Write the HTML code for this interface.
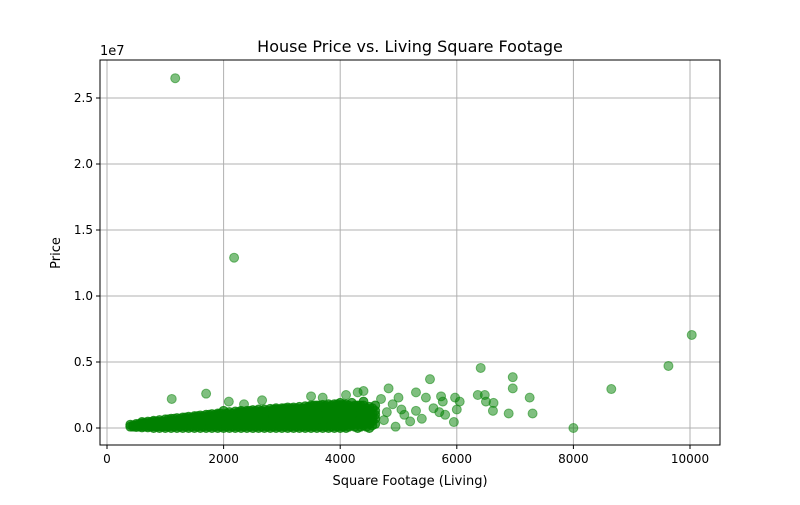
<!DOCTYPE html>
<html><head><meta charset="utf-8"><style>
body{margin:0;background:#fff;font-family:"Liberation Sans","DejaVu Sans",sans-serif;}
svg text{font-family:"DejaVu Sans","Liberation Sans",sans-serif;}
</style></head><body>
<svg id="chart" width="800" height="500" xmlns="http://www.w3.org/2000/svg">
<rect width="800" height="500" fill="#fff"/>
<g id="grid"></g><g id="pts"></g><g id="axes"></g>
<text x="410" y="52" font-size="16" text-anchor="middle">House Price vs. Living Square Footage</text>
<text x="410" y="485" font-size="13" text-anchor="middle">Square Footage (Living)</text>
<text x="60" y="253" font-size="13" text-anchor="middle" transform="rotate(-90 60 253)">Price</text>
<text x="100" y="55" font-size="13">1e7</text>
</svg>
<script>
const xTicks=[0,2000,4000,6000,8000,10000];
const yTicks=[0,5e6,1e7,1.5e7,2e7,2.5e7];
const yTickLabels=["0.0","0.5","1.0","1.5","2.0","2.5"];
// dense band: columns of sqft with price values (thousands)
const bandSqft=[400,500,600,700,800,900,1000,1100,1200,1300,1400,1500,1600,1700,1800,1900,2000,2100,2200,2300,2400,2500,2600,2700,2800,2900,3000,3100,3200,3300,3400,3500,3600,3700,3800,3900,4000,4100,4200,4300,4400,4500,4600];
const bandPricesK=[
[100,250],[80,200,300],[50,200,350,450],[50,200,350,480],[0,150,300,450,550],[0,150,300,450,600],
[0,150,300,450,650],[0,200,400,550,700],[0,200,400,550,750],[0,200,400,600,800],[0,200,400,600,850],[0,200,400,600,800,900],
[0,200,400,600,800,950],[0,200,400,600,800,1000],[0,200,400,600,800,1050],[0,200,400,600,800,1000,1100],[0,200,400,600,800,1000,1300],[0,200,400,600,800,1000,1200],
[0,200,400,600,800,1000,1250],[0,200,400,600,800,1000,1200,1300],[0,200,400,600,800,1000,1200,1300],[0,200,400,600,800,1000,1200,1350],[0,200,400,600,800,1000,1200,1400],[0,200,400,600,800,1000,1200,1400],
[0,200,400,600,800,1000,1200,1450],[0,200,400,600,800,1000,1200,1400,1500],[0,200,400,600,800,1000,1200,1400,1500],[0,200,400,600,800,1000,1200,1400,1550],[0,200,400,600,800,1000,1200,1400,1550],[0,200,400,600,800,1000,1200,1400,1600],
[0,200,400,600,800,1000,1200,1400,1650],[0,200,400,600,800,1000,1200,1400,1600,1700],[0,200,400,600,800,1000,1200,1400,1600,1700],[0,200,400,600,800,1000,1200,1400,1600,1750],[0,200,400,600,800,1000,1200,1400,1600,1800],[0,200,400,600,800,1000,1200,1400,1600,1800],
[0,200,400,600,800,1000,1200,1400,1600,1900],[0,200,400,600,800,1000,1200,1400,1600,1800],[200,400,600,800,1000,1200,1400,1600,1900],[0,300,600,900,1200,1500,1700],[200,500,800,1100,1400,1700,2000],[0,300,700,1000,1300,1600],
[300,700,1000,1300,1700]];
const band2Sqft=[450,550,650,750,850,950,1050,1150,1250,1350,1450,1550,1650,1750,1850,1950,2050,2150,2250,2350,2450,2550,2650,2750,2850,2950,3050,3150,3250,3350,3450,3550,3650,3750,3850,3950,4050,4150,4250,4350,4450,4550];
const band2PricesK=[
[100,200],[100,300],[100,300,400],[100,300,450],[100,300,500],[100,300,500],
[100,300,500,650],[100,300,500,700],[100,300,500,700],[100,300,500,700,800],[100,300,500,700,800],[100,300,500,700,900],
[100,300,500,700,900],[100,300,500,700,900,1000],[100,300,500,700,900,1000],[100,300,500,700,900,1100],[100,300,500,700,900,1100],[100,300,500,700,900,1100],
[100,300,500,700,900,1100,1200],[100,300,500,700,900,1100,1200],[100,300,500,700,900,1100,1300],[100,300,500,700,900,1100,1300],[100,300,500,700,900,1100,1300],[100,300,500,700,900,1100,1300],
[100,300,500,700,900,1100,1300,1400],[100,300,500,700,900,1100,1300,1400],[100,300,500,700,900,1100,1300,1500],[100,300,500,700,900,1100,1300,1500],[100,300,500,700,900,1100,1300,1500],[100,300,500,700,900,1100,1300,1500],
[100,300,500,700,900,1100,1300,1500,1600],[100,300,500,700,900,1100,1300,1500,1700],[100,300,500,700,900,1100,1300,1500,1700],[100,300,500,700,900,1100,1300,1500,1700],[100,300,500,700,900,1100,1300,1500,1700],[100,300,500,700,900,1100,1300,1500,1700,1800],
[100,300,500,700,900,1100,1300,1500,1700,1800],[100,300,500,700,900,1100,1300,1500,1700],[100,300,500,700,900,1100,1300,1500,1700],[100,300,500,700,900,1100,1300,1500,1700],[100,400,700,1000,1300,1500],[200,500,800,1100,1500]];
// outliers and sparse points
const sqft=[1170,2180,10030,9630,8650,8000,6410,5540,6960,6960,7250,7300,6890,6480,6360,6500,6630,6620,6050,6000,5950,5970,5760,5730,5470,5300,1110,1700,2090,2660,2350,4830,4400,4300,4100,3700,3500,4700,4900,5000,5100,5200,4800,5300,5400,5600,5700,5800,4950,5050,4750];
const price=[26.5e6,12.9e6,7.05e6,4.7e6,2.95e6,0,4.55e6,3.7e6,3.85e6,3.0e6,2.3e6,1.1e6,1.1e6,2.5e6,2.5e6,2.0e6,1.9e6,1.3e6,2.0e6,1.4e6,0.45e6,2.3e6,2.0e6,2.4e6,2.3e6,2.7e6,2.2e6,2.6e6,2.0e6,2.1e6,1.8e6,3.0e6,2.8e6,2.7e6,2.5e6,2.3e6,2.4e6,2.2e6,1.8e6,2.3e6,1.0e6,0.5e6,1.2e6,1.3e6,0.7e6,1.5e6,1.2e6,1.0e6,0.1e6,1.4e6,0.6e6];
const L=100,R=720,T=60,B=445;
const xs=v=>107+v*(583/10000);
const ys=v=>428-v*(330/2.5e7);
const NS="http://www.w3.org/2000/svg";
function mk(tag,at,parent){const e=document.createElementNS(NS,tag);for(const k in at)e.setAttribute(k,at[k]);parent.appendChild(e);return e;}
const grid=document.getElementById('grid'),pts=document.getElementById('pts'),axes=document.getElementById('axes');
xTicks.forEach(t=>{const x=xs(t);
const g=mk('line',{x1:x,x2:x,y1:T,y2:B,stroke:'#b0b0b0','stroke-width':1},grid);


mk('line',{x1:x,x2:x,y1:B,y2:B+4,stroke:'#000'},axes);
const tx=mk('text',{x:x,y:B+18,'font-size':12,'text-anchor':'middle'},axes);tx.textContent=t;

});
yTicks.forEach((t,i)=>{const y=ys(t);
const g=mk('line',{x1:L,x2:R,y1:y,y2:y,stroke:'#b0b0b0','stroke-width':1},grid);


mk('line',{x1:L-4,x2:L,y1:y,y2:y,stroke:'#000'},axes);
const tx=mk('text',{x:L-7,y:y+4,'font-size':12,'text-anchor':'end'},axes);tx.textContent=yTickLabels[i];

});
const fr=mk('rect',{x:L,y:T,width:R-L,height:B-T,fill:'none',stroke:'#000','stroke-width':1},axes);


function dot(sx,p,op){const c=mk('circle',{cx:xs(sx),cy:ys(p),r:4.5,fill:'green','fill-opacity':op,stroke:'green','stroke-opacity':op,'stroke-width':1},pts);

}
bandSqft.forEach((s,i)=>bandPricesK[i].forEach(p=>dot(s,p*1000,0.75)));
band2Sqft.forEach((s,i)=>band2PricesK[i].forEach(p=>dot(s,p*1000,0.75)));
sqft.forEach((s,i)=>dot(s,price[i],0.5));
</script>
</body></html>
